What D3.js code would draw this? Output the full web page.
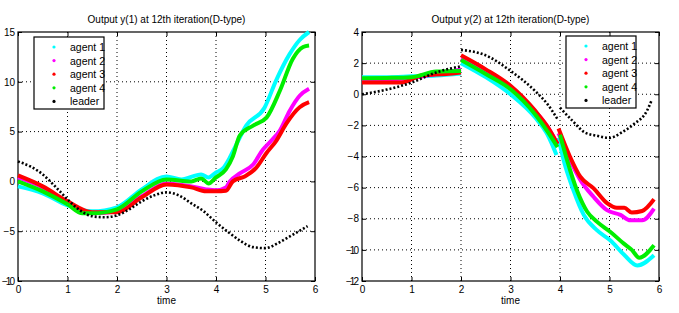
<!DOCTYPE html>
<html>
<head>
<meta charset="utf-8">
<script src="https://cdn.jsdelivr.net/npm/d3@7"></script>
<style>
  body { margin: 0; background: #fff; }
  svg text { font-family: "Liberation Sans", Arial, sans-serif; }
</style>
</head>
<body>
<svg id="chart" width="679" height="313"></svg>
<script>
// ---- data: [time, value] ----
var y1Agent1 = [[0,-0.5],[0.5,-1.2],[1,-2.4],[1.5,-3.0],[2,-2.6],[2.5,-0.8],[3,0.5],[3.3,0.2],[3.7,0.7],[3.85,0.4],[4,0.9],[4.14,1.3],[4.28,2.4],[4.4,3.6],[4.61,5.6],[4.98,7.4],[5.22,10.2],[5.49,12.8],[5.69,14.2],[5.88,15]];
var y1Agent2 = [[0,0.4],[0.5,-0.6],[1,-2.1],[1.5,-3.2],[2,-3.0],[2.5,-1.5],[3,-0.2],[3.5,-0.5],[3.8,-0.8],[4,-0.9],[4.2,-0.6],[4.28,0],[4.48,0.8],[4.75,1.7],[4.95,3.2],[5.1,4.0],[5.29,5.1],[5.49,7.1],[5.69,8.6],[5.88,9.3]];
var y1Agent3 = [[0,0.6],[0.5,-0.5],[1,-2.0],[1.5,-3.1],[2,-3.1],[2.5,-1.6],[3,-0.3],[3.5,-0.6],[3.8,-1.0],[4,-1.0],[4.2,-0.95],[4.34,0],[4.58,0.5],[4.81,1.35],[5.02,2.85],[5.22,4.1],[5.42,5.8],[5.69,7.45],[5.88,7.95]];
var y1Agent4 = [[0,0.0],[0.5,-1.0],[1,-2.3],[1.3,-3.2],[1.5,-3.2],[2,-2.8],[2.5,-1.0],[3,0.2],[3.5,0.0],[3.7,0.3],[3.85,-0.2],[4,0.4],[4.2,1.2],[4.34,2.5],[4.48,4.6],[4.75,5.6],[5.02,6.4],[5.29,9.1],[5.55,12.3],[5.76,13.5],[5.88,13.65]];
var y1Leader = [[0,2.0],[0.25,1.5],[0.5,0.7],[0.75,-0.5],[1,-1.8],[1.25,-2.9],[1.5,-3.5],[1.75,-3.6],[2,-3.4],[2.25,-2.8],[2.5,-2.0],[2.75,-1.4],[3,-1.1],[3.25,-1.4],[3.5,-2.2],[3.75,-3.0],[4,-4.1],[4.25,-5.1],[4.5,-6.0],[4.75,-6.6],[5,-6.7],[5.25,-6.2],[5.5,-5.5],[5.85,-4.5]];

var y2Agent1 = [[0,1.1],[0.5,1.1],[1,1.15],[1.5,1.2],[2,1.33],null,[2,2.0],[2.5,1.1],[3,0.0],[3.5,-1.5],[3.75,-2.6],[3.93,-3.9],null,[3.97,-2.8],[4.07,-4.2],[4.27,-6.15],[4.48,-7.75],[4.75,-8.75],[5.02,-9.4],[5.29,-10.3],[5.56,-11.0],[5.9,-10.35]];
var y2Agent2 = [[0,0.9],[0.5,0.95],[1,1.05],[1.5,1.3],[2,1.6],null,[2,2.3],[2.5,1.5],[3,0.5],[3.5,-1.1],[3.75,-2.1],[3.95,-3.2],null,[3.97,-2.5],[4.2,-4.2],[4.41,-5.5],[4.68,-6.6],[4.95,-7.45],[5.22,-7.75],[5.42,-8.1],[5.66,-8.1],[5.9,-7.35]];
var y2Agent3 = [[0,0.75],[0.5,0.75],[0.8,0.75],[1.2,1.2],[1.7,1.3],[2,1.4],null,[2,2.5],[2.5,1.6],[3,0.54],[3.5,-1.07],[3.75,-2.1],[3.95,-3.2],null,[3.97,-2.2],[4.2,-4.0],[4.41,-5.3],[4.68,-6.05],[4.95,-7.0],[5.15,-7.3],[5.3,-7.3],[5.45,-7.6],[5.66,-7.5],[5.9,-6.75]];
var y2Agent4 = [[0,1.03],[0.5,1.05],[1,1.1],[1.5,1.46],[2,1.5],null,[2,2.2],[2.5,1.3],[3,0.32],[3.5,-1.3],[3.75,-2.4],[3.95,-3.4],null,[4,-2.6],[4.14,-4.2],[4.34,-6.15],[4.55,-7.55],[4.75,-8.2],[5.02,-8.85],[5.29,-9.6],[5.45,-10.0],[5.6,-10.5],[5.9,-9.7]];
var y2Leader = [[0,0],[0.5,0.3],[1,0.75],[1.5,1.4],[2,1.8],null,[2,2.85],[2.5,2.5],[3,1.5],[3.5,0.2],[3.75,-0.65],[3.95,-1.6],null,[4,-0.86],[4.25,-1.7],[4.5,-2.45],[4.75,-2.67],[5,-2.8],[5.25,-2.45],[5.5,-1.9],[5.75,-1.1],[5.85,-0.4]];

var legendNames = ["agent 1", "agent 2", "agent 3", "agent 4", "leader"];
var seriesColors = ["#00ffff", "#ff00ff", "#ff0000", "#00ee00", "#000000"];
var xTicks = [0, 1, 2, 3, 4, 5, 6];
var y1Ticks = [-10, -5, 0, 5, 10, 15];
var y2Ticks = [-12, -10, -8, -6, -4, -2, 0, 2, 4];

var svg = d3.select("#chart");

function drawPanel(opt) {
  var x = d3.scaleLinear().domain([0, 6]).range([opt.left, opt.right]);
  var y = d3.scaleLinear().domain(opt.yDomain).range([opt.bottom, opt.top]);
  var g = svg.append("g");

  // dotted grid
  g.selectAll(".gx").data(xTicks.slice(1, -1)).enter().append("line")
    .attr("x1", d => x(d)).attr("x2", d => x(d))
    .attr("y1", opt.top).attr("y2", opt.bottom)
    .attr("stroke", "#000").attr("stroke-width", 1).attr("stroke-dasharray", "1,3");
  g.selectAll(".gy").data(opt.yTicks.slice(1, -1)).enter().append("line")
    .attr("x1", opt.left).attr("x2", opt.right)
    .attr("y1", d => y(d)).attr("y2", d => y(d))
    .attr("stroke", "#000").attr("stroke-width", 1).attr("stroke-dasharray", "1,3");

  // axes: inward ticks, box drawn separately
  var fmt = d3.format("d");
  var xb = g.append("g").attr("transform", "translate(0," + opt.bottom + ")")
    .call(d3.axisBottom(x).tickValues(xTicks).tickFormat(fmt).tickSizeInner(-4).tickSizeOuter(0).tickPadding(5));
  var xt = g.append("g").attr("transform", "translate(0," + opt.top + ")")
    .call(d3.axisTop(x).tickValues(xTicks).tickSizeInner(-4).tickSizeOuter(0).tickFormat(""));
  var yl = g.append("g").attr("transform", "translate(" + opt.left + ",0)")
    .call(d3.axisLeft(y).tickValues(opt.yTicks).tickFormat(fmt).tickSizeInner(-4).tickSizeOuter(0).tickPadding(3));
  var yr = g.append("g").attr("transform", "translate(" + opt.right + ",0)")
    .call(d3.axisRight(y).tickValues(opt.yTicks).tickSizeInner(-4).tickSizeOuter(0).tickFormat(""));
  [xb, xt, yl, yr].forEach(function (a) {
    a.select(".domain").remove();
    a.selectAll("line").attr("stroke", "#000");
    a.selectAll("text").attr("font-size", 10).attr("fill", "#000")
      .attr("font-family", "Liberation Sans, Arial, sans-serif");
  });
  // the "-10" label at the far left needs to stay inside the page
  yl.selectAll("text").attr("textLength", function () {
    return this.textContent.length > 2 ? 13 : null;
  });

  g.append("rect")
    .attr("x", opt.left).attr("y", opt.top)
    .attr("width", opt.right - opt.left).attr("height", opt.bottom - opt.top)
    .attr("fill", "none").attr("stroke", "#000").attr("stroke-width", 1.2);

  // series
  var line = d3.line()
    .defined(d => d !== null)
    .x(d => x(d[0])).y(d => y(d[1]))
    .curve(d3.curveMonotoneX);

  opt.series.forEach(function (s, i) {
    var isLeader = i === 4;
    g.append("path")
      .attr("d", line(s))
      .attr("fill", "none")
      .attr("stroke", seriesColors[i])
      .attr("stroke-width", isLeader ? 2.6 : 4)
      .attr("stroke-linejoin", "round")
      .attr("stroke-dasharray", isLeader ? "2,2" : null);
  });

  // title and x label
  g.append("text").attr("x", (opt.left + opt.right) / 2).attr("y", opt.top - 9)
    .attr("text-anchor", "middle").attr("font-size", 10).text(opt.title);
  g.append("text").attr("x", (opt.left + opt.right) / 2).attr("y", opt.bottom + 23)
    .attr("text-anchor", "middle").attr("font-size", 10).text("time");

  // legend
  var lg = g.append("g").attr("transform", "translate(" + opt.legX + "," + opt.legY + ")");
  lg.append("rect").attr("width", 70).attr("height", 72)
    .attr("fill", "#fff").attr("stroke", "#000").attr("stroke-width", 1.2);
  legendNames.forEach(function (name, i) {
    var yy = 10 + i * 13.6;
    lg.append("circle").attr("cx", 20).attr("cy", yy).attr("r", 1.6)
      .attr("fill", seriesColors[i]);
    lg.append("text").attr("x", 36).attr("y", yy + 4)
      .attr("font-size", 10.5).text(name);
  });
}

drawPanel({
  left: 18, right: 315, top: 32, bottom: 281,
  yDomain: [-10, 15], yTicks: y1Ticks,
  title: "Output y(1) at 12th iteration(D-type)",
  series: [y1Agent1, y1Agent2, y1Agent3, y1Agent4, y1Leader],
  legX: 34, legY: 37
});

drawPanel({
  left: 362, right: 659, top: 32, bottom: 281,
  yDomain: [-12, 4], yTicks: y2Ticks,
  title: "Output y(2) at 12th iteration(D-type)",
  series: [y2Agent1, y2Agent2, y2Agent3, y2Agent4, y2Leader],
  legX: 566, legY: 36
});
</script>
</body>
</html>
